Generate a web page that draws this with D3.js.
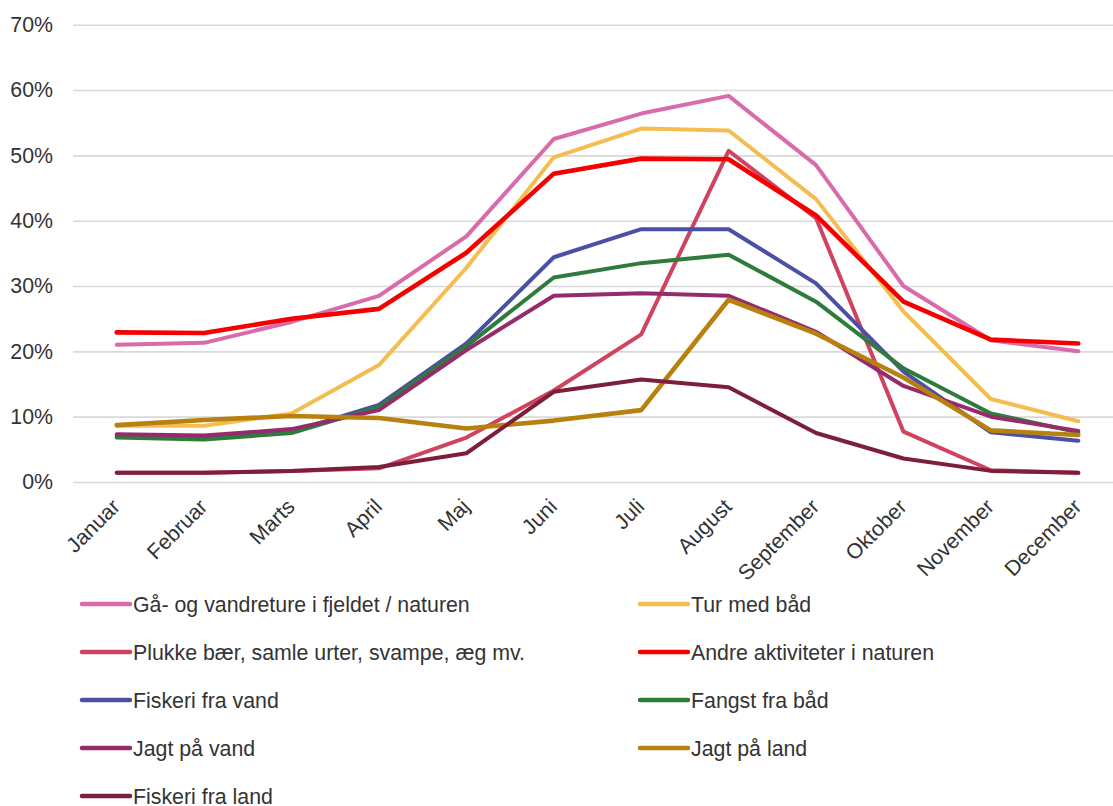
<!DOCTYPE html>
<html>
<head>
<meta charset="utf-8">
<script src="https://cdn.jsdelivr.net/npm/d3@7"></script>
<style>
  html, body { margin: 0; padding: 0; background: #fff; }
  svg { display: block; font-family: "Liberation Sans", Arial, sans-serif; }
</style>
</head>
<body>
<svg id="chart" width="1113" height="806"></svg>
<script>
// ---- data ----
const months = ["Januar","Februar","Marts","April","Maj","Juni","Juli","August","September","Oktober","November","December"];
const yTicks = [0, 0.1, 0.2, 0.3, 0.4, 0.5, 0.6, 0.7];

const seriesNames = [
  "Gå- og vandreture i fjeldet / naturen",
  "Tur med båd",
  "Plukke bær, samle urter, svampe, æg mv.",
  "Andre aktiviteter i naturen",
  "Fiskeri fra vand",
  "Fangst fra båd",
  "Jagt på vand",
  "Jagt på land",
  "Fiskeri fra land"
];

const gaaVandre      = [21.0, 21.3, 24.5, 28.5, 37.6, 52.5, 56.4, 59.1, 48.5, 30.0, 21.7, 20.0];
const turMedBaad     = [8.6, 8.6, 10.5, 17.9, 32.8, 49.7, 54.1, 53.8, 43.3, 26.1, 12.7, 9.3];
const plukkeBaer     = [1.4, 1.4, 1.7, 2.1, 6.8, 14.0, 22.6, 50.7, 40.4, 7.7, 1.8, 1.4];
const andreAktivitet = [22.9, 22.8, 25.0, 26.5, 35.1, 47.2, 49.5, 49.4, 40.8, 27.6, 21.8, 21.2];
const fiskeriVand    = [7.0, 6.7, 7.7, 11.8, 21.2, 34.4, 38.7, 38.7, 30.4, 16.9, 7.6, 6.3];
const fangstBaad     = [6.8, 6.5, 7.5, 11.5, 20.8, 31.3, 33.5, 34.8, 27.6, 17.4, 10.5, 7.6];
const jagtVand       = [7.3, 7.1, 8.1, 11.0, 20.2, 28.5, 28.9, 28.5, 23.0, 14.7, 10.0, 7.8];
const jagtLand       = [8.7, 9.5, 10.1, 9.8, 8.2, 9.4, 11.0, 27.9, 22.7, 16.0, 7.9, 7.2];
const fiskeriLand    = [1.4, 1.4, 1.7, 2.3, 4.4, 13.8, 15.7, 14.5, 7.5, 3.6, 1.7, 1.4];

const seriesValues = [gaaVandre, turMedBaad, plukkeBaer, andreAktivitet, fiskeriVand, fangstBaad, jagtVand, jagtLand, fiskeriLand];
const seriesColors = ["#D96BAA", "#F4BD4F", "#D0435F", "#F50000", "#4A50A5", "#2E7B3B", "#952B6A", "#B8800F", "#7C1F3A"];

// ---- layout ----
const FONT = "'Liberation Sans', Arial, sans-serif";
const FS = 21.33;
const svg = d3.select("#chart");
const plotLeft = 73, plotRight = 1122, plotTop = 24.7, plotBottom = 482;

const x = d3.scalePoint().domain(months).range([plotLeft, plotRight]).padding(0.5);
const y = d3.scaleLinear().domain([0, 0.7]).range([plotBottom, plotTop]);

// y axis + gridlines
const yAxis = svg.append("g")
  .attr("transform", `translate(${plotLeft},0)`)
  .call(d3.axisLeft(y).tickValues(yTicks).tickFormat(d3.format(".0%")).tickSize(-(1113 - plotLeft)).tickPadding(20));
yAxis.select(".domain").remove();
yAxis.selectAll(".tick line").attr("stroke", "#D9D9D9").attr("stroke-width", 1.6);
yAxis.selectAll(".tick text").attr("fill", "#333").attr("font-size", FS).attr("font-family", FONT);

// x axis
const xAxis = svg.append("g")
  .attr("transform", `translate(0,${plotBottom})`)
  .call(d3.axisBottom(x).tickSize(0).tickPadding(0));
xAxis.select(".domain").remove();
xAxis.selectAll(".tick text")
  .attr("fill", "#333").attr("font-size", FS).attr("font-family", FONT)
  .attr("text-anchor", "end")
  .attr("dy", null)
  .attr("y", 0)
  .attr("transform", "translate(4,26) rotate(-45)");

// lines
const line = d3.line()
  .x((d, i) => x(months[i]))
  .y(d => y(d / 100));

svg.append("g").selectAll("path")
  .data(seriesValues)
  .join("path")
  .attr("d", line)
  .attr("fill", "none")
  .attr("stroke", (d, i) => seriesColors[i])
  .attr("stroke-width", (d, i) => (i === 3 || i === 7) ? 4.6 : 4)
  .attr("stroke-linejoin", "round")
  .attr("stroke-linecap", "round");

// legend
const legend = svg.append("g");
const legendItems = legend.selectAll("g")
  .data(seriesNames)
  .join("g")
  .attr("transform", (d, i) => `translate(${i % 2 === 0 ? 82 : 640},${604 + Math.floor(i / 2) * 48})`);
legendItems.append("line")
  .attr("x1", 0).attr("x2", 48).attr("y1", 0).attr("y2", 0)
  .attr("stroke", (d, i) => seriesColors[i])
  .attr("stroke-width", 4.5)
  .attr("stroke-linecap", "round");
legendItems.append("text")
  .attr("x", 51).attr("y", 7.5)
  .attr("font-size", FS).attr("fill", "#333").attr("font-family", FONT)
  .text(d => d);
</script>
</body>
</html>
